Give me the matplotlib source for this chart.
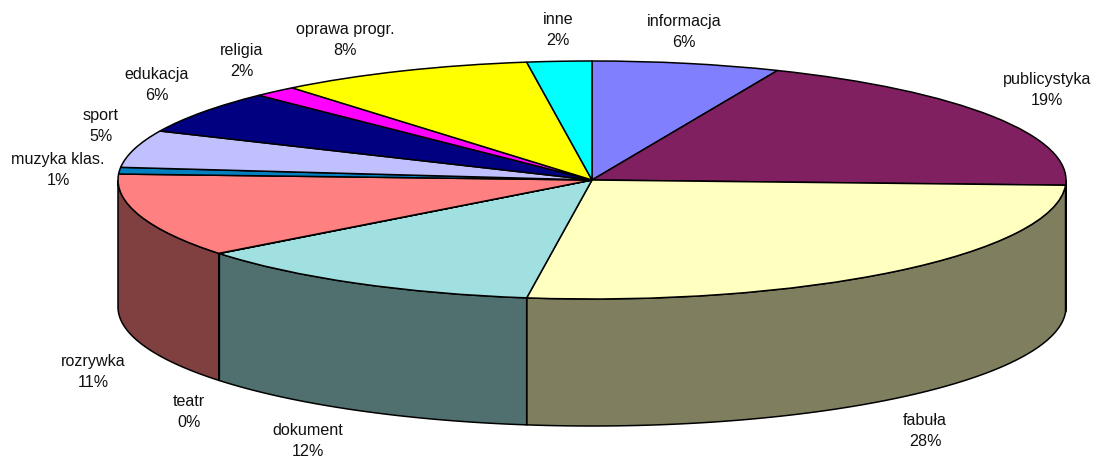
import numpy as np
import matplotlib
matplotlib.use("Agg")
import matplotlib.pyplot as plt

plt.rcParams['font.family'] = ['Liberation Sans', 'DejaVu Sans']

# slices, clockwise from 12 o'clock
categories = ['informacja', 'publicystyka', 'fabuła', 'dokument', 'teatr', 'rozrywka',
              'muzyka klas.', 'sport', 'edukacja', 'religia', 'oprawa progr.', 'inne']
percent_labels = ['6%', '19%', '28%', '12%', '0%', '11%', '1%', '5%', '6%', '2%', '8%', '2%']
# shares as measured on the drawing, these differ a bit from the printed labels
shares = [6.4, 19.3, 26.5, 12.2, 0.03, 11.37, 0.9, 5.05, 5.85, 1.5, 8.7, 2.2]

top_colors = ['#8080FF', '#802060', '#FFFFC0', '#A0E0E0', '#600080', '#FF8080',
              '#0080C0', '#C0C0FF', '#000080', '#FF00FF', '#FFFF00', '#00FFFF']
side_colors = ['#404080', '#401030', '#7F7F5F', '#507070', '#300040', '#804040',
               '#004060', '#606080', '#000040', '#800080', '#808000', '#008080']

# label centres in pixels
label_xy = [(684, 32), (1047, 90), (925, 431), (308, 441), (189, 412), (93, 372),
            (58, 170), (101, 126), (157, 85), (242, 61), (345, 40), (558, 30)]

W, H = 1093, 459
cx, cy, rx, ry, depth = 592, 180, 474, 119, 127

fig = plt.figure(figsize=(W / 100, H / 100), dpi=100)
ax = fig.add_axes([0, 0, 1, 1])

edges = 360 * np.cumsum([0] + shares) / sum(shares)
d = depth / ry

# side wall, only the part facing the viewer
for i in range(len(shares)):
    a0 = max(edges[i], 90)
    a1 = min(edges[i + 1], 270)
    if a1 <= a0:
        continue
    t = np.radians(np.linspace(a0, a1, 80))
    xs = np.sin(t)
    ys = np.cos(t)
    ax.fill(np.r_[xs, xs[::-1]], np.r_[ys, ys[::-1] - d], facecolor=side_colors[i],
            edgecolor='black', linewidth=1.1, zorder=1)

wedges, _ = ax.pie(shares, colors=top_colors, startangle=90, counterclock=False,
                   wedgeprops={'edgecolor': 'black', 'linewidth': 1.1, 'zorder': 2})

ax.set_aspect('auto')
ax.set_xlim(-cx / rx, (W - cx) / rx)
ax.set_ylim((cy - H) / ry, cy / ry)
ax.axis('off')

for name, pct, (px, py) in zip(categories, percent_labels, label_xy):
    fig.text(px / W, 1 - py / H, name + '\n' + pct, ha='center', va='center',
             fontsize=11.6, color='#111111', linespacing=1.42)

fig.savefig('out.png', dpi=100)
